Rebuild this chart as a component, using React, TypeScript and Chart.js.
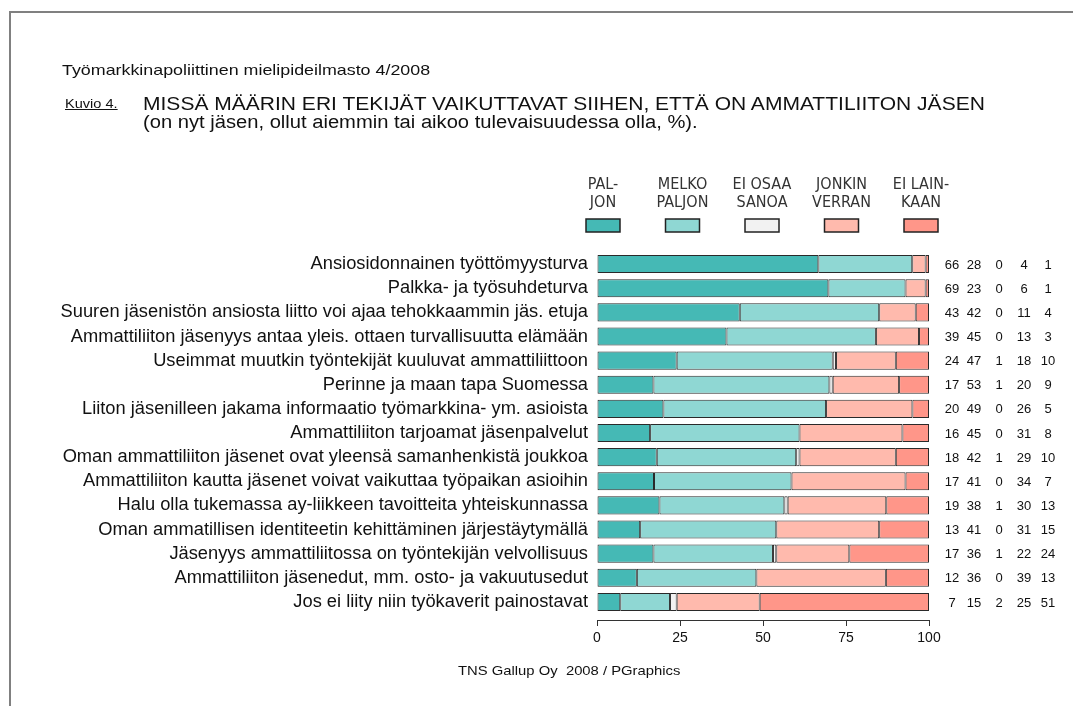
import React, { useEffect, useRef } from "react";
import { Chart, registerables } from "chart.js";
Chart.register(...registerables);

const categories = [
  "Ansiosidonnainen työttömyysturva",
  "Palkka- ja työsuhdeturva",
  "Suuren jäsenistön ansiosta liitto voi ajaa tehokkaammin jäs. etuja",
  "Ammattiliiton jäsenyys antaa yleis. ottaen turvallisuutta elämään",
  "Useimmat muutkin työntekijät kuuluvat ammattiliittoon",
  "Perinne ja maan tapa Suomessa",
  "Liiton jäsenilleen jakama informaatio työmarkkina- ym. asioista",
  "Ammattiliiton tarjoamat jäsenpalvelut",
  "Oman ammattiliiton jäsenet ovat yleensä samanhenkistä joukkoa",
  "Ammattiliiton kautta jäsenet voivat vaikuttaa työpaikan asioihin",
  "Halu olla tukemassa ay-liikkeen tavoitteita yhteiskunnassa",
  "Oman ammatillisen identiteetin kehittäminen järjestäytymällä",
  "Jäsenyys ammattiliitossa on työntekijän velvollisuus",
  "Ammattiliiton jäsenedut, mm. osto- ja vakuutusedut",
  "Jos ei liity niin työkaverit painostavat",
];

const paljon = [66, 69, 43, 39, 24, 17, 20, 16, 18, 17, 19, 13, 17, 12, 7];
const melkoPaljon = [28, 23, 42, 45, 47, 53, 49, 45, 42, 41, 38, 41, 36, 36, 15];
const eiOsaaSanoa = [0, 0, 0, 0, 1, 1, 0, 0, 1, 0, 1, 0, 1, 0, 2];
const jonkinVerran = [4, 6, 11, 13, 18, 20, 26, 31, 29, 34, 30, 31, 22, 39, 25];
const eiLainkaan = [1, 1, 4, 3, 10, 9, 5, 8, 10, 7, 13, 15, 24, 13, 51];

const legendLines = [
  ["PAL-", "JON"],
  ["MELKO", "PALJON"],
  ["EI OSAA", "SANOA"],
  ["JONKIN", "VERRAN"],
  ["EI LAIN-", "KAAN"],
];

const xTicks = [0, 25, 50, 75, 100];

const seriesColors = ["#45b9b5", "#8fd7d3", "#f2f2f2", "#ffbaad", "#ff9689"];

const SANS = "'Liberation Sans', Arial, Helvetica, sans-serif";
const NARROW = "'Liberation Sans Narrow', 'Arial Narrow', 'DejaVu Sans Condensed', sans-serif";

const allSeries = [paljon, melkoPaljon, eiOsaaSanoa, jonkinVerran, eiLainkaan];

export default function App() {
  const canvasRef = useRef<HTMLCanvasElement | null>(null);

  useEffect(() => {
    const canvas = canvasRef.current;
    if (!canvas) return;

    const totals = categories.map((_, j) =>
      allSeries.reduce((s, arr) => s + arr[j], 0)
    );
    const datasets = allSeries.map((arr, i) => ({
      label: legendLines[i].join(" "),
      data: arr.map((v, j) => (v / totals[j]) * 100),
      backgroundColor: seriesColors[i],
      borderColor: "#2a2a2a",
      borderWidth: 1,
      borderSkipped: false,
      categoryPercentage: 1,
      barPercentage: 0.75,
    }));

    const extras = {
      id: "extras",
      afterDraw(chart: any) {
        const { ctx, chartArea } = chart;
        const yScale = chart.scales.y;
        ctx.save();
        // legend
        ctx.font = `16px ${NARROW}`;
        ctx.textAlign = "center";
        ctx.textBaseline = "middle";
        legendLines.forEach((lines, i) => {
          const cx = chartArea.left + 6 + i * 79.5;
          ctx.fillStyle = "#333";
          lines.forEach((t, k) => ctx.fillText(t, cx, chartArea.top - 67 + k * 18));
          ctx.fillStyle = seriesColors[i];
          ctx.fillRect(cx - 17, chartArea.top - 33, 34, 13);
          ctx.strokeStyle = "#222";
          ctx.lineWidth = 1.5;
          ctx.strokeRect(cx - 17, chartArea.top - 33, 34, 13);
        });
        // value columns
        const offsets = [23, 45, 70, 95, 119];
        ctx.font = `13px ${SANS}`;
        ctx.fillStyle = "#111";
        categories.forEach((_, j) => {
          const y = yScale.getPixelForValue(j);
          allSeries.forEach((arr, i) => {
            ctx.fillText(String(arr[j]), chartArea.right + offsets[i], y + 1);
          });
        });
        ctx.restore();
      },
    };

    const chart = new Chart(canvas, {
      type: "bar",
      data: { labels: categories, datasets },
      plugins: [extras],
      options: {
        indexAxis: "y",
        animation: false,
        responsive: false,
        maintainAspectRatio: false,
        layout: { padding: { top: 252, right: 144, bottom: 92, left: 0 } },
        plugins: {
          legend: { display: false },
          tooltip: { enabled: false },
          title: { display: false },
        },
        scales: {
          x: {
            stacked: true,
            min: 0,
            max: 100,
            position: { y: 14.75 } as any,
            afterBuildTicks: (scale: any) => {
              scale.ticks = xTicks.map((v) => ({ value: v }));
            },
            grid: {
              drawOnChartArea: false,
              drawTicks: true,
              tickLength: 5,
              color: "#333",
              lineWidth: 1,
            },
            border: { display: true, color: "#333", width: 1 },
            ticks: {
              color: "#111",
              padding: 5,
              font: { family: SANS, size: 14 },
              maxRotation: 0,
            },
          },
          y: {
            stacked: true,
            afterFit: (scale: any) => {
              scale.width = 597;
            },
            grid: { display: false, drawTicks: false },
            border: { display: false },
            ticks: {
              color: "#111",
              padding: 9,
              autoSkip: false,
              font: { family: SANS, size: 18.3 },
            },
          },
        },
      },
    });
    return () => chart.destroy();
  }, []);

  const txt = (extra: React.CSSProperties): React.CSSProperties => ({
    position: "absolute",
    whiteSpace: "nowrap",
    lineHeight: 1,
    fontFamily: SANS,
    color: "#111",
    transformOrigin: "left center",
    ...extra,
  });

  return (
    <div
      style={{
        position: "absolute",
        left: 0,
        top: 0,
        width: 1073,
        height: 706,
        overflow: "hidden",
        background: "#fff",
      }}
    >
      <div
        style={{
          position: "absolute",
          left: 9,
          top: 11,
          width: 1100,
          height: 720,
          borderTop: "2px solid #808080",
          borderLeft: "2px solid #808080",
        }}
      />
      <canvas
        ref={canvasRef}
        width={1073}
        height={706}
        style={{ position: "absolute", left: 0, top: 0, width: 1073, height: 706 }}
      />
      <div style={txt({ left: 62, top: 62, fontSize: 15, transform: "scaleX(1.19)" })}>
        Työmarkkinapoliittinen mielipideilmasto 4/2008
      </div>
      <div
        style={txt({
          left: 65,
          top: 97,
          fontSize: 13,
          textDecoration: "underline",
          transform: "scaleX(1.12)",
        })}
      >
        Kuvio 4.
      </div>
      <div style={txt({ left: 143, top: 95, fontSize: 18, transform: "scaleX(1.168)" })}>
        MISSÄ MÄÄRIN ERI TEKIJÄT VAIKUTTAVAT SIIHEN, ETTÄ ON AMMATTILIITON JÄSEN
      </div>
      <div style={txt({ left: 143, top: 113, fontSize: 18, transform: "scaleX(1.12)" })}>
        (on nyt jäsen, ollut aiemmin tai aikoo tulevaisuudessa olla, %).
      </div>
      <div style={txt({ left: 458, top: 664, fontSize: 13, transform: "scaleX(1.14)" })}>
        TNS Gallup Oy&nbsp; 2008 / PGraphics
      </div>
    </div>
  );
}
